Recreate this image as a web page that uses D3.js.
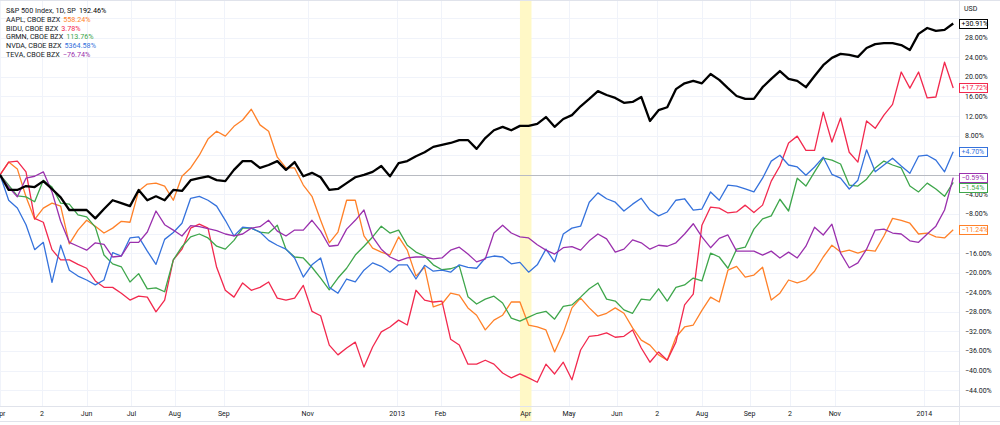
<!DOCTYPE html>
<html>
<head>
<meta charset="utf-8">
<script src="https://cdn.jsdelivr.net/npm/d3@7"></script>
<style>
  html, body { margin: 0; padding: 0; background: #fff; }
  svg { display: block; font-family: Roboto, "Open Sans", sans-serif; }
</style>
</head>
<body>
<svg id="chart" width="1000" height="425"></svg>
<script>
// sampled every 6 calendar days from 2012-04-02, % change since first bar
const startDate = '2012-04-02'
const stepDays = 6

const spx = [0, -3.1, -3.1, -2.3, -2.5, -1.3, -2.9, -4.6, -7.2, -7.2,
  -7.2, -8.9, -7.0, -5.2, -5.8, -6.4, -3.1, -5.2, -4.4, -5.2,
  -3.1, -3.3, -1.1, -0.7, -0.3, -1.1, -1.3, 1.0, 2.8, 2.8,
  1.4, 2.0, 2.8, 1.0, 2.6, -0.3, 0.4, -0.5, -3.1, -2.9,
  -1.7, -0.5, 0, 0.6, 1.8, -0.3, 2.4, 2.8, 3.8, 4.6,
  5.7, 6.1, 6.5, 7.1, 7.1, 5.3, 7.5, 9.1, 9.8, 9.1,
  10.0, 10.0, 10.4, 11.8, 9.8, 11.4, 12.2, 14.0, 15.5, 17.1,
  16.3, 15.7, 14.7, 14.9, 15.9, 11.0, 13.2, 13.8, 17.5, 18.7,
  19.2, 18.7, 20.6, 19.4, 17.7, 16.1, 15.5, 15.5, 17.9, 19.6,
  21.2, 19.6, 19.2, 17.9, 20.2, 22.4, 23.9, 24.7, 24.5, 24.1,
  25.9, 26.7, 26.9, 26.9, 26.5, 25.5, 28.8, 30.0, 29.4, 29.6, 30.91]

const aapl = [0, 2.6, 1.2, -4.5, -9.1, -6.8, -5.8, -6.4, -14.1, -11.3,
  -9.3, -10.5, -11.9, -10.9, -9.5, -9.7, -3.3, -1.9, -1.7, -2.3,
  -5.2, -0.3, 1.4, 4.0, 7.3, 8.9, 7.9, 9.9, 11.2, 13.4,
  10.2, 8.9, 3.6, 1.4, 1.4, -2.1, -4.4, -9.3, -13.9, -11.7,
  -5.2, -5.2, -12.5, -15.0, -15.8, -16.4, -12.7, -15.4, -20.7, -18.9,
  -27.0, -26.4, -24.2, -24.6, -27.2, -28.7, -31.7, -29.7, -28.7, -26.0,
  -26.0, -30.7, -31.1, -31.7, -36.2, -32.3, -27.2, -25.2, -27.2, -28.9,
  -28.3, -27.2, -28.3, -31.3, -33.8, -34.8, -36.8, -37.9, -33.2, -31.1,
  -30.7, -27.7, -25.0, -26.0, -19.5, -18.7, -20.9, -20.5, -18.9, -25.6,
  -24.2, -21.5, -22.1, -21.5, -19.7, -16.8, -14.4, -15.8, -15.4, -16.0,
  -15.4, -15.6, -12.5, -8.9, -9.3, -9.9, -12.1, -11.9, -12.7, -12.9, -11.24]

const bidu = [0, 2.6, 2.8, 0.6, -8.9, -9.7, -15.3, -17.4, -17.4, -18.3,
  -19.1, -21.7, -23.0, -23.0, -24.2, -25.6, -24.8, -25.0, -28.0, -25.6,
  -17.4, -15.2, -10.9, -10.1, -10.9, -18.9, -23.6, -25.0, -22.1, -23.6,
  -23.0, -21.9, -25.2, -25.6, -25.2, -22.6, -27.9, -28.8, -34.8, -36.8,
  -35.4, -34.2, -39.3, -35.2, -32.1, -31.1, -29.7, -30.7, -23.6, -25.6,
  -26.0, -25.8, -33.6, -34.8, -38.7, -38.7, -37.9, -38.7, -40.5, -41.5,
  -40.7, -41.5, -42.4, -38.7, -40.7, -38.3, -41.9, -35.8, -33.0, -32.8,
  -32.3, -33.2, -33.0, -31.7, -35.4, -38.3, -36.2, -37.9, -34.2, -26.6,
  -24.4, -10.3, -6.6, -6.8, -7.8, -7.6, -6.2, -7.7, -6.2, -1.3,
  1.8, 6.5, 7.9, 5.0, 5.0, 12.8, 6.7, 11.6, 4.6, 2.6,
  11.0, 9.5, 12.2, 14.4, 21.0, 17.7, 21.0, 15.7, 15.9, 23.0, 17.72]

const grmn = [0, -2.1, -4.3, -4.5, -5.5, -1.1, -2.5, -5.8, -6.0, -8.2,
  -8.6, -10.7, -16.4, -18.2, -18.8, -21.9, -20.2, -23.3, -23.1, -23.9,
  -17.4, -14.7, -12.7, -12.1, -12.9, -14.6, -15.2, -13.4, -10.9, -10.9,
  -11.7, -11.9, -10.3, -15.2, -16.8, -17.0, -18.9, -21.1, -23.5, -21.1,
  -19.1, -16.4, -14.6, -12.7, -10.5, -11.9, -11.3, -14.4, -15.8, -16.6,
  -18.4, -19.4, -19.2, -18.6, -24.9, -26.4, -25.4, -24.8, -26.2, -29.3,
  -29.9, -29.1, -28.3, -27.9, -29.5, -26.9, -26.6, -25.0, -23.3, -22.1,
  -25.4, -25.8, -27.6, -28.3, -25.4, -25.6, -23.3, -25.8, -23.0, -22.5,
  -21.1, -21.7, -16.0, -16.8, -19.1, -15.2, -14.8, -11.1, -9.0, -8.4,
  -5.0, -7.4, -0.7, -2.3, 0.6, 3.4, 3.0, 2.2, -2.1, -2.3,
  -0.9, 1.4, 2.8, 2.0, 1.4, -2.3, -3.5, -1.7, -2.9, -4.4, -1.54]

const nvda = [0, -5.2, -6.8, -10.2, -15.3, -13.8, -22.0, -14.4, -19.5, -20.7,
  -21.5, -22.5, -21.5, -15.9, -16.6, -12.9, -12.7, -15.6, -18.3, -13.2,
  -11.8, -9.9, -4.8, -4.4, -5.2, -6.4, -9.3, -12.5, -10.7, -10.9,
  -11.7, -13.4, -14.4, -15.2, -17.0, -20.9, -18.4, -17.0, -23.0, -24.2,
  -21.3, -21.9, -19.5, -18.0, -18.7, -19.9, -18.4, -18.4, -21.3, -18.5,
  -19.7, -19.5, -19.9, -18.4, -18.9, -19.1, -17.0, -16.6, -16.8, -18.2,
  -17.9, -19.9, -18.4, -15.2, -17.8, -12.1, -10.9, -10.5, -5.6, -3.7,
  -4.9, -5.6, -7.4, -6.0, -4.8, -7.2, -8.4, -7.6, -5.2, -4.9,
  -7.2, -7.0, -3.5, -5.2, -2.1, -2.3, -2.9, -3.5, -0.7, 2.8,
  4.0, 2.0, 1.6, -0.1, 1.6, 3.6, 0.1, -0.7, -2.9, -1.1,
  5.1, 0.6, 2.0, 3.4, 1.8, 0.3, 3.8, 4.0, 3.0, 0.6, 4.70]

const teva = [0, -2.5, -4.5, -0.7, -0.3, 0.6, -3.5, -9.5, -13.8, -14.6,
  -15.4, -13.9, -14.2, -16.8, -16.6, -13.8, -13.8, -11.7, -7.4, -10.2,
  -11.3, -12.5, -10.4, -10.6, -11.0, -11.4, -12.1, -12.5, -12.1, -10.9,
  -10.6, -9.3, -11.5, -12.5, -11.3, -11.3, -9.3, -11.5, -14.6, -14.4,
  -11.1, -9.3, -7.2, -12.7, -15.2, -16.8, -17.6, -17.0, -16.8, -16.8,
  -17.2, -17.0, -15.4, -14.8, -16.2, -17.8, -17.2, -11.9, -10.3, -11.9,
  -12.7, -12.9, -14.3, -15.4, -16.2, -14.9, -14.7, -15.4, -13.5, -12.1,
  -13.1, -15.8, -15.2, -13.3, -13.9, -15.2, -14.4, -14.6, -13.9, -12.1,
  -10.0, -12.7, -14.9, -13.0, -12.3, -15.6, -15.6, -15.6, -16.4, -15.6,
  -17.0, -15.8, -17.0, -14.6, -10.7, -12.3, -10.1, -16.0, -19.0, -18.0,
  -15.2, -11.3, -11.1, -11.9, -12.1, -13.5, -13.8, -12.1, -10.5, -7.2, -0.59]

const seriesNames = ['S&P 500 Index, 1D, SP', 'AAPL, CBOE BZX', 'BIDU, CBOE BZX',
  'GRMN, CBOE BZX', 'NVDA, CBOE BZX', 'TEVA, CBOE BZX']
const legendValues = ['192.46%', '558.24%', '3.78%', '113.76%', '5364.58%', '\u221276.74%']
const seriesColors = ['#000000', '#ff8129', '#f2294e', '#3ea64b', '#3572dc', '#9a30ad']

const tickDates = ['2012-04-02', '2012-05-01', '2012-06-01', '2012-07-02', '2012-08-01',
  '2012-09-04', '2012-11-01', '2013-01-02', '2013-02-01', '2013-04-01', '2013-05-01',
  '2013-06-03', '2013-07-01', '2013-08-01', '2013-09-03', '2013-10-01', '2013-11-01', '2014-01-02']
const tickLabels = ['Apr', '2', 'Jun', 'Jul', 'Aug', 'Sep', 'Nov', '2013', 'Feb', 'Apr',
  'May', 'Jun', '2', 'Aug', 'Sep', '2', 'Nov', '2014']
const highlightRange = ['2013-03-28', '2013-04-05']

const parse = d3.timeParse('%Y-%m-%d')
const start = parse(startDate)
const dates = spx.map((_, i) => d3.timeDay.offset(start, i * stepDays))

const allSeries = [spx, aapl, bidu, grmn, nvda, teva].map((values, i) => ({
  name: seriesNames[i],
  color: seriesColors[i],
  legend: legendValues[i],
  values
}))

const width = 1000
const height = 425
const plotR = 959
const plotB = 406

const svg = d3.select('#chart')

const x = d3.scaleTime()
  .domain([start, parse('2014-01-26')])
  .range([0, plotR])

const y = d3.scaleLinear()
  .domain([-44, 32])
  .range([390.1, 18.2])

const yTicks = d3.range(-44, 33, 4)
const fmtTick = d => d3.format('.2f')(d) + '%'

// grid
const grid = svg.append('g')
grid.selectAll('line.h')
  .data(yTicks)
  .join('line')
  .attr('x1', 0).attr('x2', plotR)
  .attr('y1', d => Math.round(y(d)) + 0.5).attr('y2', d => Math.round(y(d)) + 0.5)
  .attr('stroke', '#f0f3fa')

grid.selectAll('line.v')
  .data(tickDates)
  .join('line')
  .attr('x1', d => Math.round(x(parse(d))) + 0.5).attr('x2', d => Math.round(x(parse(d))) + 0.5)
  .attr('y1', 0).attr('y2', plotB)
  .attr('stroke', '#f0f3fa')

// highlighted week
svg.append('rect')
  .attr('x', x(parse(highlightRange[0])))
  .attr('width', x(parse(highlightRange[1])) - x(parse(highlightRange[0])))
  .attr('y', 0)
  .attr('height', 421)
  .attr('fill', '#fff8c6')

// zero line
svg.append('line')
  .attr('x1', 0).attr('x2', plotR)
  .attr('y1', Math.round(y(0)) + 0.5).attr('y2', Math.round(y(0)) + 0.5)
  .attr('stroke', '#b8bbc2')

// frame
svg.append('line').attr('x1', 0).attr('x2', width).attr('y1', plotB + 0.5).attr('y2', plotB + 0.5).attr('stroke', '#e0e3eb')
svg.append('line').attr('x1', 0).attr('x2', width).attr('y1', 421.5).attr('y2', 421.5).attr('stroke', '#e0e3eb')
svg.append('line').attr('x1', 0).attr('x2', width).attr('y1', 0.5).attr('y2', 0.5).attr('stroke', '#e0e3eb')
svg.append('line').attr('x1', plotR + 0.5).attr('x2', plotR + 0.5).attr('y1', 0).attr('y2', height).attr('stroke', '#e0e3eb')

svg.append('clipPath').attr('id', 'plotClip')
  .append('rect').attr('x', 0).attr('y', 0).attr('width', plotR).attr('height', plotB)

const line = d3.line()
  .x((d, i) => x(dates[i]))
  .y(d => y(d))

const lines = svg.append('g').attr('clip-path', 'url(#plotClip)')
const drawOrder = [1, 2, 3, 4, 5, 0]
drawOrder.forEach(k => {
  const s = allSeries[k]
  lines.append('path')
    .datum(s.values)
    .attr('fill', 'none')
    .attr('stroke', s.color)
    .attr('stroke-width', k === 0 ? 2.3 : 1.3)
    .attr('stroke-linejoin', 'round')
    .attr('d', line)
})

// last value tags
const fmtLast = d => d3.format('+.2f')(d) + '%'
const tags = allSeries.map(s => ({
  color: s.color,
  v: s.values[s.values.length - 1],
  ty: y(s.values[s.values.length - 1])
})).sort((a, b) => a.ty - b.ty)
for (let i = 1; i < tags.length; i++) {
  if (tags[i].ty < tags[i - 1].ty + 10) tags[i].ty = tags[i - 1].ty + 10
}

// right axis (labels sitting under a tag are left out)
const visibleTicks = yTicks.filter(t => !tags.some(g => Math.abs(g.ty - y(t)) < 6))
svg.append('g').selectAll('text')
  .data(visibleTicks)
  .join('text')
  .attr('x', 965)
  .attr('y', d => y(d))
  .attr('dy', '0.35em')
  .attr('font-size', 7)
  .attr('fill', '#131722')
  .text(fmtTick)

svg.append('text')
  .attr('x', 964).attr('y', 9)
  .attr('dy', '0.35em')
  .attr('font-size', 7)
  .attr('fill', '#131722')
  .text('USD')

const tagG = svg.append('g').selectAll('g')
  .data(tags)
  .join('g')
  .attr('transform', d => `translate(959.5,${Math.round(d.ty)})`)
tagG.append('rect')
  .attr('x', 0).attr('y', -4.5)
  .attr('width', 28).attr('height', 9)
  .attr('fill', '#fff')
  .attr('stroke', d => d.color)
tagG.append('text')
  .attr('x', 2).attr('y', 0)
  .attr('dy', '0.35em')
  .attr('font-size', 7)
  .attr('fill', d => d.color)
  .text(d => fmtLast(d.v))

// bottom axis labels
svg.append('g').selectAll('text')
  .data(tickDates)
  .join('text')
  .attr('x', d => x(parse(d)))
  .attr('y', 414)
  .attr('dy', '0.35em')
  .attr('text-anchor', 'middle')
  .attr('font-size', 7)
  .attr('fill', '#131722')
  .text((d, i) => tickLabels[i])

// legend
const legend = svg.append('g')
const rows = legend.selectAll('text')
  .data(allSeries)
  .join('text')
  .attr('x', 6)
  .attr('y', (d, i) => 10.7 + i * 8.7)
  .attr('dy', '0.35em')
  .attr('font-size', 7.2)
  .attr('fill', '#131722')
rows.append('tspan').text(d => d.name)
rows.append('tspan')
  .attr('dx', 3)
  .attr('fill', d => d.color)
  .text(d => d.legend)
</script>
</body>
</html>
